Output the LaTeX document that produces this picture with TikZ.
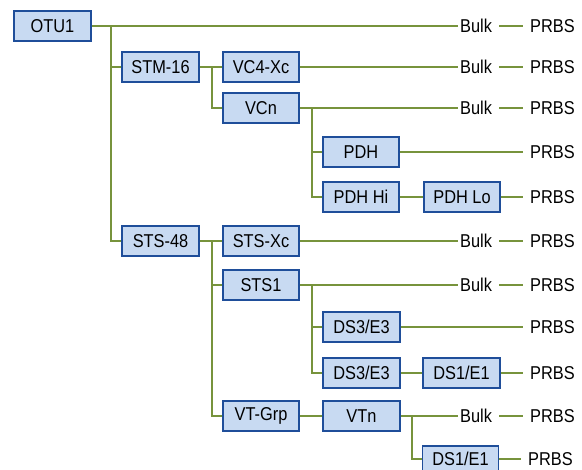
\documentclass[tikz,border=0pt]{standalone}
\usepackage{fontspec}
\usepackage{graphicx}
\setmainfont{Liberation Sans}
\definecolor{olive}{RGB}{119,147,60}
\definecolor{boxfill}{RGB}{200,218,242}
\definecolor{boxdraw}{RGB}{31,78,154}
\newcommand{\narrowtxt}[1]{\scalebox{0.88}[1]{#1}}
\begin{document}
\begin{tikzpicture}[x=1pt,y=-1pt,
  box/.style={draw=boxdraw,line width=1.6pt,fill=boxfill,minimum width=76pt,minimum height=30pt,inner sep=0pt,font=\fontsize{18.6}{22}\selectfont},
  lbl/.style={anchor=west,inner ysep=0pt,font=\fontsize{18.6}{22}\selectfont},
  bulk/.style={lbl,inner xsep=2pt},
  prbs/.style={lbl,inner xsep=7pt},
  wire/.style={draw=olive,line width=2.6pt}]
\useasboundingbox (0,0) rectangle (582,470);
\clip (0,0) rectangle (582,470);
% boxes
\node[box,minimum width=77pt] (OTU1) at (52.5,26) {\narrowtxt{OTU1}};
\node[box,minimum width=77pt] (STM16) at (160.5,67) {\narrowtxt{STM-16}};
\node[box] (VC4) at (261,67) {\narrowtxt{VC4-Xc}};
\node[box] (VCn) at (261,108) {\narrowtxt{VCn}};
\node[box] (PDH) at (361,152) {\narrowtxt{PDH}};
\node[box] (PDHHi) at (361,197) {\narrowtxt{PDH Hi}};
\node[box] (PDHLo) at (462,197) {\narrowtxt{PDH Lo}};
\node[box,minimum width=77pt] (STS48) at (160.5,241) {\narrowtxt{STS-48}};
\node[box] (STSXc) at (261,241) {\narrowtxt{STS-Xc}};
\node[box] (STS1) at (261,285) {\narrowtxt{STS1}};
\node[box,minimum width=77pt] (DS3a) at (361.5,327) {\narrowtxt{DS3/E3}};
\node[box,minimum width=77pt] (DS3b) at (361.5,373) {\narrowtxt{DS3/E3}};
\node[box,minimum width=77pt] (DS1a) at (461.5,373) {\narrowtxt{DS1/E1}};
\node[box] (VTGrp) at (261,416) {\narrowtxt{VT-Grp}};
\node[box,minimum width=77pt] (VTn) at (361.5,416) {\narrowtxt{VTn}};
\node[box,minimum height=26pt] (DS1b) at (460.5,459) {\narrowtxt{DS1/E1}};
% labels
\node[bulk] (B1) at (458,26) {\narrowtxt{Bulk}};   \node[prbs] (P1) at (523,26) {\narrowtxt{PRBS}};
\node[bulk] (B2) at (458,67) {\narrowtxt{Bulk}};   \node[prbs] (P2) at (523,67) {\narrowtxt{PRBS}};
\node[bulk] (B3) at (458,108) {\narrowtxt{Bulk}};  \node[prbs] (P3) at (523,108) {\narrowtxt{PRBS}};
\node[prbs] (P4) at (523,152) {\narrowtxt{PRBS}};
\node[prbs] (P5) at (523,197) {\narrowtxt{PRBS}};
\node[bulk] (B6) at (458,241) {\narrowtxt{Bulk}};  \node[prbs] (P6) at (523,241) {\narrowtxt{PRBS}};
\node[bulk] (B7) at (458,285) {\narrowtxt{Bulk}};  \node[prbs] (P7) at (523,285) {\narrowtxt{PRBS}};
\node[prbs] (P8) at (523,327) {\narrowtxt{PRBS}};
\node[prbs] (P9) at (523,373) {\narrowtxt{PRBS}};
\node[bulk] (B10) at (458,416) {\narrowtxt{Bulk}}; \node[prbs] (P10) at (523,416) {\narrowtxt{PRBS}};
\node[prbs] (P11) at (521,459) {\narrowtxt{PRBS}};
% trunk coordinates
\coordinate (t1) at (111,26);
\coordinate (t2) at (212,67);
\coordinate (t3) at (312,108);
\coordinate (t4) at (212,241);
\coordinate (t5) at (312,285);
\coordinate (t6) at (412,416);
\path[wire] (OTU1.east) -- (B1.west);
\path[wire] (t1) |- (STM16.west);
\path[wire] (t1) |- (STS48.west);
\path[wire] (STM16.east) -- (VC4.west);
\path[wire] (t2) |- (VCn.west);
\path[wire] (VC4.east) -- (B2.west);
\path[wire] (VCn.east) -- (B3.west);
\path[wire] (t3) |- (PDH.west);
\path[wire] (t3) |- (PDHHi.west);
\path[wire] (PDH.east) -- (P4.west);
\path[wire] (PDHHi.east) -- (PDHLo.west);
\path[wire] (PDHLo.east) -- (P5.west);
\path[wire] (STS48.east) -- (STSXc.west);
\path[wire] (t4) |- (STS1.west);
\path[wire] (t4) |- (VTGrp.west);
\path[wire] (STSXc.east) -- (B6.west);
\path[wire] (STS1.east) -- (B7.west);
\path[wire] (t5) |- (DS3a.west);
\path[wire] (t5) |- (DS3b.west);
\path[wire] (DS3a.east) -- (P8.west);
\path[wire] (DS3b.east) -- (DS1a.west);
\path[wire] (DS1a.east) -- (P9.west);
\path[wire] (VTGrp.east) -- (VTn.west);
\path[wire] (VTn.east) -- (B10.west);
\path[wire] (t6) |- (DS1b.west);
\path[wire] (DS1b.east) -- (P11.west);
\foreach \b/\p in {B1/P1,B2/P2,B3/P3,B6/P6,B7/P7,B10/P10}
  \path[wire,shorten <=5pt] (\b.east) -- (\p.west);
\end{tikzpicture}
\end{document}
